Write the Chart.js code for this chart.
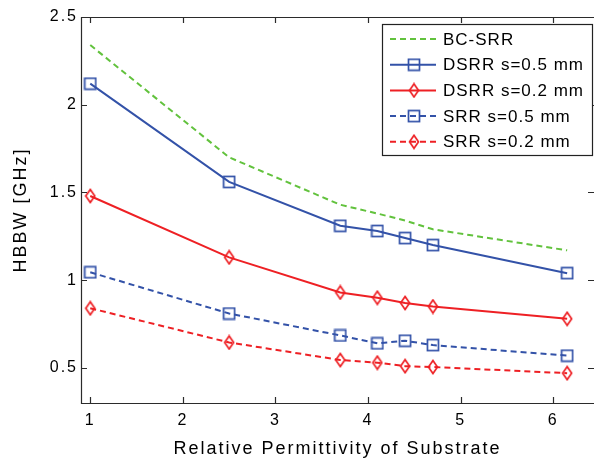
<!DOCTYPE html>
<html>
<head>
<meta charset="utf-8">
<script src="https://cdn.jsdelivr.net/npm/chart.js@4.4.1/dist/chart.umd.min.js"></script>
<style>
  html, body { margin: 0; padding: 0; background: #fff; }
  #chart { display: block; }
</style>
</head>
<body>
<canvas id="chart" width="594" height="462"></canvas>
<script>
// values
const permittivity = [1, 2.5, 3.7, 4.1, 4.4, 4.7, 6.15];
const bcSrr   = [2.34, 1.70, 1.43, 1.38, 1.34, 1.29, 1.17];
const dsrr05  = [2.12, 1.56, 1.31, 1.28, 1.24, 1.20, 1.04];
const dsrr02  = [1.48, 1.13, 0.93, 0.90, 0.87, 0.85, 0.78];
const srr05   = [1.045, 0.81, 0.685, 0.64, 0.655, 0.63, 0.57];
const srr02   = [0.84, 0.645, 0.545, 0.53, 0.51, 0.505, 0.47];

const xTicks = [1, 2, 3, 4, 5, 6];
const yTicks = [0.5, 1, 1.5, 2, 2.5];

const FONT = "'Liberation Sans', Arial, Helvetica, sans-serif";
const GREEN = '#62c23d';
const BLUE = '#3352a8';
const RED = '#ee2024';

function squareMarker(color) {
    const c = document.createElement('canvas');
    c.width = 14; c.height = 14;
    const g = c.getContext('2d');
    g.strokeStyle = color;
    g.lineWidth = 1.7;
    g.strokeRect(1.5, 1.5, 11, 11);
    return c;
}

function diamondMarker(color) {
    const c = document.createElement('canvas');
    c.width = 12; c.height = 16;
    const g = c.getContext('2d');
    g.strokeStyle = color;
    g.lineWidth = 1.7;
    g.beginPath();
    g.moveTo(6, 1.5);
    g.lineTo(10.5, 8);
    g.lineTo(6, 14.5);
    g.lineTo(1.5, 8);
    g.closePath();
    g.stroke();
    return c;
}

function pts(values) {
    return values.map((v, i) => ({ x: permittivity[i], y: v }));
}

const series = [
    { label: 'BC-SRR', data: bcSrr, color: GREEN, dash: [6, 4], marker: null },
    { label: 'DSRR s=0.5 mm', data: dsrr05, color: BLUE, dash: [], marker: squareMarker(BLUE) },
    { label: 'DSRR s=0.2 mm', data: dsrr02, color: RED, dash: [], marker: diamondMarker(RED) },
    { label: 'SRR s=0.5 mm', data: srr05, color: BLUE, dash: [6, 4], marker: squareMarker(BLUE) },
    { label: 'SRR s=0.2 mm', data: srr02, color: RED, dash: [6, 4], marker: diamondMarker(RED) }
];

// axes box with inward ticks on all four sides (right edge is cropped in the original)
const boxPlugin = {
    id: 'box',
    beforeDraw(chart) {
        chart.ctx.letterSpacing = '2px';
    },
    afterDatasetsDraw(chart) {
        const { ctx, chartArea: a, scales: { x, y } } = chart;
        ctx.save();
        ctx.strokeStyle = '#2b2b2b';
        ctx.lineWidth = 1.2;
        ctx.beginPath();
        ctx.moveTo(a.right, a.top + 0.5);
        ctx.lineTo(a.left + 0.5, a.top + 0.5);
        ctx.lineTo(a.left + 0.5, a.bottom + 0.5);
        ctx.lineTo(a.right, a.bottom + 0.5);
        const len = 6;
        xTicks.forEach(v => {
            const px = Math.round(x.getPixelForValue(v)) + 0.5;
            ctx.moveTo(px, a.bottom); ctx.lineTo(px, a.bottom - len);
            ctx.moveTo(px, a.top); ctx.lineTo(px, a.top + len);
        });
        yTicks.forEach(v => {
            const py = Math.round(y.getPixelForValue(v)) + 0.5;
            ctx.moveTo(a.left, py); ctx.lineTo(a.left + len, py);
            ctx.moveTo(a.right, py); ctx.lineTo(a.right - len, py);
        });
        ctx.stroke();
        ctx.restore();
    }
};

// matlab style legend: line sample with marker in the middle
const legendPlugin = {
    id: 'matlabLegend',
    afterDraw(chart) {
        const ctx = chart.ctx;
        ctx.save();
        ctx.letterSpacing = '1px';
        ctx.fillStyle = '#fff';
        ctx.fillRect(382, 24, 210, 131);
        ctx.strokeStyle = '#222';
        ctx.lineWidth = 1.2;
        ctx.strokeRect(382.5, 24.5, 210, 131);
        series.forEach((s, i) => {
            const yy = 39 + i * 25.7;
            ctx.strokeStyle = s.color;
            ctx.lineWidth = 2;
            ctx.setLineDash(s.dash);
            ctx.beginPath();
            ctx.moveTo(390, yy);
            ctx.lineTo(436, yy);
            ctx.stroke();
            ctx.setLineDash([]);
            if (s.marker) {
                ctx.drawImage(s.marker, 414 - s.marker.width / 2, yy - s.marker.height / 2);
            }
            ctx.fillStyle = '#000';
            ctx.font = '17px ' + FONT;
            ctx.textBaseline = 'middle';
            ctx.textAlign = 'left';
            ctx.fillText(s.label, 443, yy + 1);
        });
        ctx.restore();
    }
};

new Chart(document.getElementById('chart'), {
    type: 'line',
    data: {
        datasets: series.map(s => ({
            label: s.label,
            data: pts(s.data),
            borderColor: s.color,
            backgroundColor: s.color,
            borderWidth: 2,
            borderDash: s.dash,
            pointStyle: s.marker || false,
            pointRadius: s.marker ? 6 : 0,
            fill: false,
            tension: 0
        }))
    },
    options: {
        responsive: false,
        animation: false,
        devicePixelRatio: 1,
        layout: { autoPadding: false, padding: { top: 17, right: 0, left: 0, bottom: 0 } },
        plugins: {
            legend: { display: false },
            tooltip: { enabled: false }
        },
        scales: {
            x: {
                type: 'linear',
                min: 0.9,
                max: 6.44,
                grid: { display: false, drawTicks: false },
                border: { display: false },
                afterBuildTicks: scale => { scale.ticks = xTicks.map(v => ({ value: v })); },
                afterFit: scale => {
                    scale.height = 59;
                    scale.paddingLeft = 0;
                    scale.paddingRight = 0;
                },
                ticks: {
                    padding: 8,
                    color: '#000',
                    font: { family: FONT, size: 16 },
                    callback: v => String(v)
                },
                title: {
                    display: true,
                    text: 'Relative Permittivity of Substrate',
                    color: '#000',
                    font: { family: FONT, size: 18 },
                    padding: { top: 0, bottom: 2 }
                }
            },
            y: {
                type: 'linear',
                min: 0.3,
                max: 2.5,
                grid: { display: false, drawTicks: false },
                border: { display: false },
                afterBuildTicks: scale => { scale.ticks = yTicks.map(v => ({ value: v })); },
                afterFit: scale => {
                    scale.width = 81;
                    scale.paddingTop = 0;
                    scale.paddingBottom = 0;
                },
                ticks: {
                    padding: 3,
                    color: '#000',
                    font: { family: FONT, size: 16 },
                    callback: v => String(v)
                },
                title: {
                    display: true,
                    text: 'HBBW [GHz]',
                    color: '#000',
                    font: { family: FONT, size: 18 },
                    padding: { top: 10, bottom: 0 }
                }
            }
        }
    },
    plugins: [boxPlugin, legendPlugin]
});
</script>
</body>
</html>
